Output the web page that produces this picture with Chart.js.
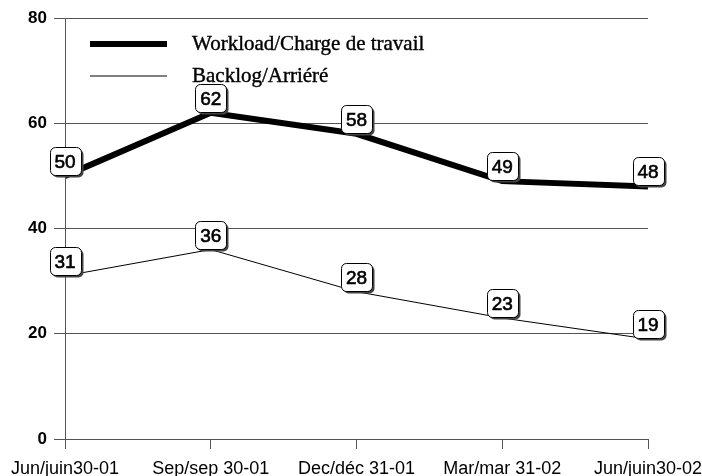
<!DOCTYPE html>
<html>
<head>
<meta charset="utf-8">
<script src="https://cdn.jsdelivr.net/npm/chart.js@4"></script>
<style>
    html, body { margin: 0; padding: 0; background: #fff; }
</style>
</head>
<body>
<canvas id="linechart" width="702" height="476"></canvas>
<script>
const categories = ['Jun/juin30-01', 'Sep/sep 30-01', 'Dec/déc 31-01', 'Mar/mar 31-02', 'Jun/juin30-02'];
const workload = [50, 62, 58, 49, 48];
const backlog = [31, 36, 28, 23, 19];
const yTicks = [0, 20, 40, 60, 80];

// white boxes with a value in them, sitting just above each point
const valueBoxes = {
    id: 'valueBoxes',
    afterDatasetsDraw(chart) {
        const ctx = chart.ctx;
        ctx.save();
        ctx.font = '19px "Liberation Sans", Arial, sans-serif';
        ctx.textAlign = 'center';
        ctx.textBaseline = 'middle';
        chart.data.datasets.forEach((ds, i) => {
            chart.getDatasetMeta(i).data.forEach((pt, j) => {
                const w = 31, h = 28;
                const x = Math.round(pt.x - w / 2) + 0.5;
                const y = Math.round(pt.y - h - 1) + 0.5;
                ctx.fillStyle = '#444';
                ctx.beginPath();
                ctx.roundRect(x + 2, y + 2, w, h, 5);
                ctx.fill();
                ctx.fillStyle = '#fff';
                ctx.strokeStyle = '#000';
                ctx.lineWidth = 1;
                ctx.beginPath();
                ctx.roundRect(x, y, w, h, 5);
                ctx.fill();
                ctx.stroke();
                ctx.fillStyle = '#000';
                ctx.lineWidth = 0.6;
                ctx.fillText(ds.data[j], pt.x, y + h / 2 + 1);
                ctx.strokeText(ds.data[j], pt.x, y + h / 2 + 1);
            });
        });
        ctx.restore();
    }
};

// legend drawn inside the plot, top left
const innerLegend = {
    id: 'innerLegend',
    beforeDatasetsDraw(chart) {
        const ctx = chart.ctx;
        const area = chart.chartArea;
        ctx.save();
        ctx.font = '21px "Liberation Serif", "Times New Roman", serif';
        ctx.textBaseline = 'middle';
        ctx.fillStyle = '#000';
        chart.data.datasets.forEach((ds, i) => {
            const y = area.top + 26 + i * 32;
            ctx.strokeStyle = ds.borderColor;
            ctx.lineWidth = ds.borderWidth;
            ctx.beginPath();
            ctx.moveTo(area.left + 25, y);
            ctx.lineTo(area.left + 102, y);
            ctx.stroke();
            ctx.lineWidth = 0.4;
            ctx.fillText(ds.label, area.left + 127, y);
            ctx.strokeText(ds.label, area.left + 127, y);
        });
        ctx.restore();
    }
};

new Chart(document.getElementById('linechart'), {
    type: 'line',
    data: {
        labels: categories,
        datasets: [{
            label: 'Workload/Charge de travail',
            data: workload,
            borderColor: '#000',
            borderWidth: 6,
            pointRadius: 0,
            tension: 0
        }, {
            label: 'Backlog/Arriéré',
            data: backlog,
            borderColor: '#000',
            borderWidth: 1,
            pointRadius: 0,
            tension: 0
        }]
    },
    options: {
        responsive: false,
        animation: false,
        layout: {
            padding: { left: 0, right: 54, top: 18, bottom: 0 }
        },
        plugins: {
            legend: { display: false },
            tooltip: { enabled: false }
        },
        scales: {
            x: {
                offset: false,
                grid: {
                    drawOnChartArea: false,
                    color: '#555',
                    tickLength: 10
                },
                border: { color: '#555' },
                ticks: {
                    color: '#000',
                    maxRotation: 0,
                    autoSkip: false,
                    padding: 9,
                    font: { family: '"Liberation Sans", Arial, sans-serif', size: 18 }
                },
                afterFit(scale) {
                    scale.height = 37;
                    scale.paddingLeft = 0;
                    scale.paddingRight = 0;
                }
            },
            y: {
                min: 0,
                max: 80,
                afterBuildTicks(scale) {
                    scale.ticks = yTicks.map(v => ({ value: v }));
                },
                grid: {
                    color: '#555',
                    tickLength: 11
                },
                border: { color: '#555' },
                ticks: {
                    color: '#000',
                    padding: 7,
                    font: { family: '"Liberation Sans", Arial, sans-serif', size: 17, weight: 'bold' }
                },
                afterFit(scale) {
                    scale.width = 65;
                    scale.paddingTop = 0;
                    scale.paddingBottom = 0;
                }
            }
        }
    },
    plugins: [innerLegend, valueBoxes]
});
</script>
</body>
</html>
